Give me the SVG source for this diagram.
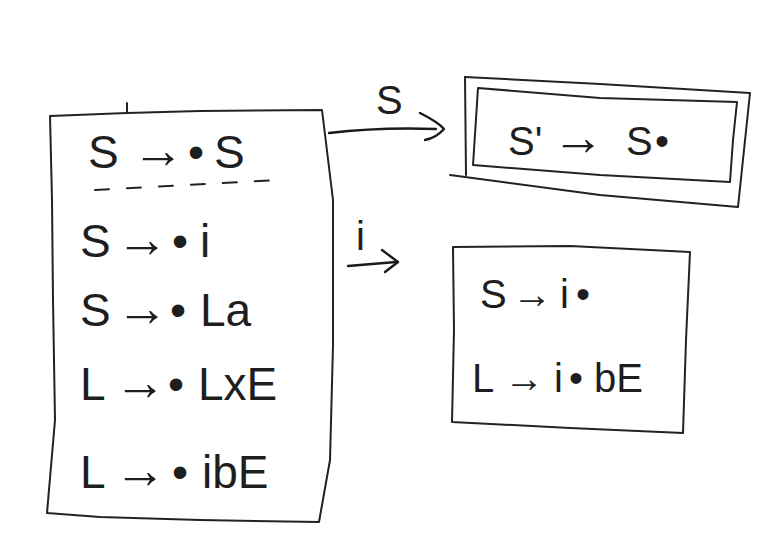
<svg xmlns="http://www.w3.org/2000/svg" width="762" height="536" viewBox="0 0 762 536">
<defs>
<style>
.box{fill:none;stroke:#222;stroke-width:2;stroke-linecap:round;stroke-linejoin:round}
.edge{fill:none;stroke:#1a1a1a;stroke-width:2.4;stroke-linecap:round;stroke-linejoin:round}
.t{font-family:"Liberation Sans",Arial,sans-serif;fill:#1e1e1e;font-size:46px}
.ts{font-family:"Liberation Sans",Arial,sans-serif;fill:#1e1e1e;font-size:40px}
.lbl{font-family:"Liberation Sans",Arial,sans-serif;fill:#1e1e1e;font-size:40px}
.ar{font-size:52px}
</style>
</defs>
<rect width="762" height="536" fill="#fff"/>
<g id="state0">
<path class="box" d="M50 116 L127 113 L200 111 L322 110 L333 200 L333 345 L330 460 L319 522 L200 520 L100 517 L47 513 L55 420 L53 300 L52 200 Z"/>
<path class="box" d="M127 103 L127 113"/>
<path class="box" stroke-dasharray="14 18" d="M95 190 L280 180"/>
<text class="t" y="168"><tspan x="88">S</tspan><tspan class="ar" x="132">→</tspan><tspan x="188">•</tspan><tspan x="214">S</tspan></text>
<text class="t" y="257"><tspan x="80">S</tspan><tspan class="ar" x="116">→</tspan><tspan x="172">•</tspan><tspan x="200">i</tspan></text>
<text class="t" y="326"><tspan x="80">S</tspan><tspan class="ar" x="116">→</tspan><tspan x="170">•</tspan><tspan x="200">La</tspan></text>
<text class="t" y="400"><tspan x="80">L</tspan><tspan class="ar" x="114">→</tspan><tspan x="168">•</tspan><tspan x="198">LxE</tspan></text>
<text class="t" y="488"><tspan x="80">L</tspan><tspan class="ar" x="114">→</tspan><tspan x="172">•</tspan><tspan x="202">ibE</tspan></text>
</g>
<g id="state1">
<path class="box" d="M465 77 L600 84 L750 93 L744 150 L738 207 L600 195 L450 175"/>
<path class="box" d="M465 77 L466 175"/>
<path class="box" d="M478 88 L600 98 L737 102 L733 140 L730 182 L600 175 L473 165 Z"/>
<text class="ts" y="155"><tspan x="508">S'</tspan><tspan class="ar" x="552">→</tspan><tspan x="626">S</tspan><tspan x="655">•</tspan></text>
</g>
<g id="state2">
<path class="box" d="M453 247 L570 246 L690 252 L686 340 L683 433 L570 428 L452 422 L454 330 Z"/>
<text class="ts" y="308"><tspan x="480">S</tspan><tspan x="512">→</tspan><tspan x="560">i</tspan><tspan x="576">•</tspan></text>
<text class="ts" y="392"><tspan x="472">L</tspan><tspan x="504">→</tspan><tspan x="554">i</tspan><tspan x="569">•</tspan><tspan x="594">bE</tspan></text>
</g>
<g id="connectors">
<path class="edge" d="M329 133 Q380 127 436 129"/>
<path class="edge" d="M420 113 Q438 122 444 129 Q436 138 425 140"/>
<text class="lbl" x="376" y="114">S</text>
<path class="edge" d="M348 266 L396 262"/>
<path class="edge" d="M382 250 L398 262 L385 272"/>
<text class="lbl" x="356" y="250">i</text>
</g>
</svg>
